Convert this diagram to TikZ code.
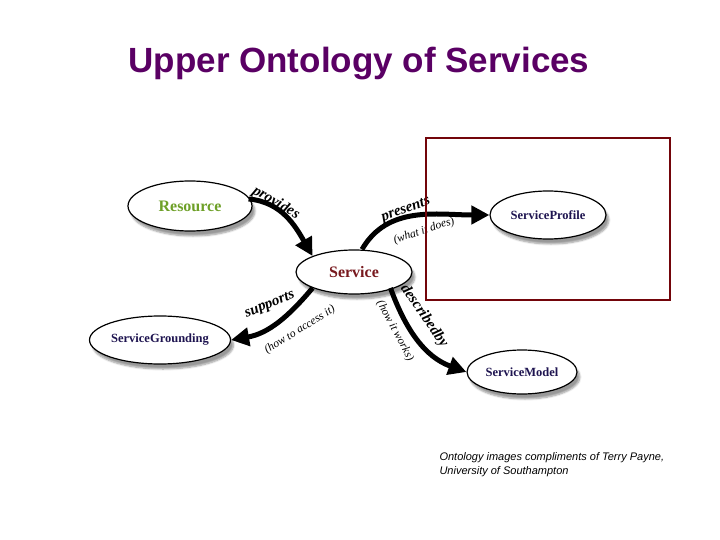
\documentclass[tikz,border=0pt]{standalone}
\usepackage{fontspec}
\setmainfont{Liberation Serif}
\newfontfamily\sansf{Liberation Sans}
\usetikzlibrary{shapes.geometric,arrows.meta,shadows.blur}
\definecolor{titlec}{RGB}{90,0,100}
\definecolor{boxc}{RGB}{115,5,10}
\definecolor{resc}{RGB}{110,160,40}
\definecolor{svcc}{RGB}{120,25,30}
\definecolor{navy}{RGB}{30,20,80}
\begin{document}
\begin{tikzpicture}[x=1pt,y=-1pt,
  ent/.style={ellipse,draw=black,line width=1.2pt,fill=white,inner sep=1pt,
    blur shadow={shadow xshift=3pt,shadow yshift=-5pt,shadow blur steps=6}},
  rel/.style={line width=5pt,-{Triangle[length=18pt,width=18pt]}},
  lab/.style={font=\itshape\bfseries\fontsize{15}{17}\selectfont},
  sub/.style={font=\itshape\fontsize{11.5}{13}\selectfont}]
\useasboundingbox (0,0) rectangle (720,540);
\node[font=\sansf\bfseries\fontsize{35}{40}\selectfont,text=titlec] (title) at (359,64) {Upper Ontology of Services};
\node[ent,minimum width=124pt,minimum height=50pt,text=resc,font=\bfseries\fontsize{16}{18}\selectfont] (res) at (190,206) {Resource};
\node[ent,minimum width=116pt,minimum height=44pt,text=svcc,font=\bfseries\fontsize{16}{18}\selectfont] (svc) at (354,272) {Service};
\node[ent,minimum width=116pt,minimum height=48pt,text=navy,font=\bfseries\fontsize{12.5}{14}\selectfont] (prof) at (548,215) {ServiceProfile};
\node[ent,minimum width=114pt,minimum height=48pt,text=navy,font=\bfseries\fontsize{12.5}{14}\selectfont] (grd) at (160,340) {ServiceGrounding};
\node[ent,minimum width=110pt,minimum height=44pt,text=navy,font=\bfseries\fontsize{12.5}{14}\selectfont] (mod) at (522,372) {ServiceModel};
\draw[rel] (res.east) ++(-4,-7) coordinate (r1) (r1) to[out=-5,in=120] (svc.north west);
\draw[rel] ([xshift=8pt]svc.north) to[out=60,in=180] (prof.west);
\draw[rel] (svc.south west) to[out=-130,in=10] (grd.east);
\draw[rel] ([xshift=-5pt]svc.south east) to[out=-70,in=160] (mod.west);
\node[lab,rotate=-30] (l1) at (276,203) {provides};
\node[lab,rotate=20] (l2) at (406,210) {presents};
\node[sub,rotate=18] (s2) at (424,231) {(what it does)};
\node[lab,rotate=22] (l3) at (270,305) {supports};
\node[sub,rotate=32] (s3) at (300,330) {(how to access it)};
\node[lab,rotate=-55] (l4) at (424,316) {describedby};
\node[sub,rotate=-62] (s4) at (395,331) {(how it works)};
\draw[boxc,line width=2pt] (426,138) rectangle (670,300);
\node[anchor=north west,align=left,font=\sansf\itshape\fontsize{11}{14}\selectfont] (cap) at (436,449) {Ontology images compliments of Terry Payne,\\University of Southampton};
\end{tikzpicture}
\end{document}
